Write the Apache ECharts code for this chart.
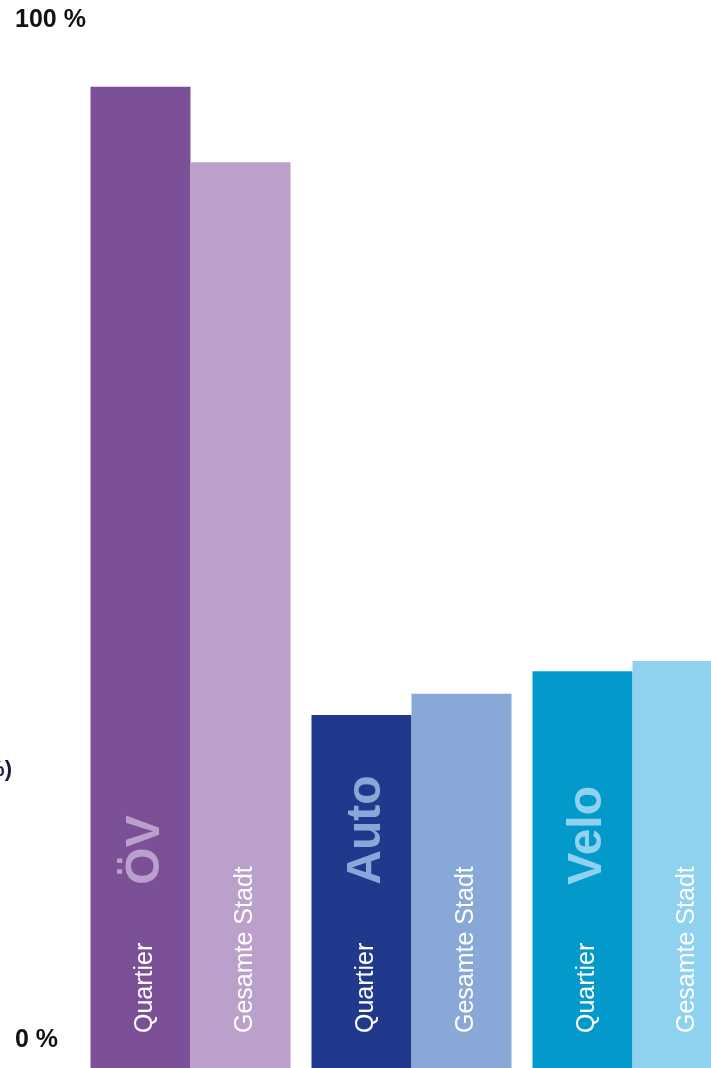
<!DOCTYPE html>
<html>
<head>
<meta charset="utf-8">
<style>
  html, body { margin: 0; padding: 0; background: #ffffff; }
  #chart { width: 711px; height: 1068px; }
</style>
<script src="https://cdn.jsdelivr.net/npm/echarts@6/dist/echarts.min.js"></script>
</head>
<body>
<div id="chart"></div>
<script>
// ---- data ----
const categories = ['ÖV', 'Auto', 'Velo'];
const seriesNames = ['Quartier', 'Gesamte Stadt'];
const quartierValues = [96.2, 34.6, 38.9];
const stadtValues = [88.8, 36.7, 39.9];
const yMin = 0;
const yMax = 100;
const yInterval = 100;
const axisNameText = '(%)';

// ---- styles ----
const quartierColors = ['#7b5097', '#21398c', '#0399cb'];
const stadtColors = ['#bba0cc', '#88a9d8', '#8ed2f0'];
const FONT = '"Liberation Sans", Arial, Helvetica, sans-serif';

const rich = {
  s: { fontFamily: FONT, fontSize: 25, color: '#ffffff', lineHeight: 30 },
  g: { width: 58, fontSize: 25, lineHeight: 30 }
};
categories.forEach(function (c, i) {
  rich['b' + i] = { fontFamily: FONT, fontSize: 48, fontWeight: 'bold', color: stadtColors[i], lineHeight: 56 };
});

const chart = echarts.init(document.getElementById('chart'), null, { renderer: 'canvas' });
chart.setOption({
  backgroundColor: '#ffffff',
  animation: false,
  grid: { left: 80, top: 48, width: 663, bottom: 0, containLabel: false, outerBoundsMode: 'none' },
  xAxis: {
    type: 'category',
    data: categories,
    show: false
  },
  yAxis: {
    type: 'value',
    min: yMin,
    max: yMax,
    interval: yInterval,
    axisLine: { show: false },
    axisTick: { show: false },
    splitLine: { show: false },
    axisLabel: {
      formatter: '{value} %',
      align: 'left',
      verticalAlign: 'bottom',
      lineHeight: 56,
      margin: 65,
      fontFamily: FONT,
      fontSize: 25,
      fontWeight: 'bold',
      color: '#111111'
    }
  },
  graphic: [{
    type: 'text',
    style: {
      text: axisNameText,
      x: 12,
      y: 770,
      align: 'right',
      verticalAlign: 'middle',
      font: 'bold 22px ' + FONT,
      fill: '#1a1a40'
    }
  }],
  series: [
    {
      name: seriesNames[0],
      type: 'bar',
      data: quartierValues,
      barWidth: 100,
      barGap: '0%',
      itemStyle: { color: function (p) { return quartierColors[p.dataIndex]; } },
      label: {
        show: true,
        position: 'insideBottom',
        distance: 35,
        rotate: 90,
        align: 'left',
        verticalAlign: 'middle',
        offset: [0, 5],
        formatter: function (p) {
          return '{s|' + p.seriesName + '}{g| }{b' + p.dataIndex + '|' + p.name + '}';
        },
        rich: rich
      }
    },
    {
      name: seriesNames[1],
      type: 'bar',
      data: stadtValues,
      barWidth: 100,
      barGap: '0%',
      itemStyle: { color: function (p) { return stadtColors[p.dataIndex]; } },
      label: {
        show: true,
        position: 'insideBottom',
        distance: 35,
        rotate: 90,
        align: 'left',
        verticalAlign: 'middle',
        offset: [0, 5],
        formatter: '{s|{a}}',
        rich: rich
      }
    }
  ]
});
</script>
</body>
</html>
